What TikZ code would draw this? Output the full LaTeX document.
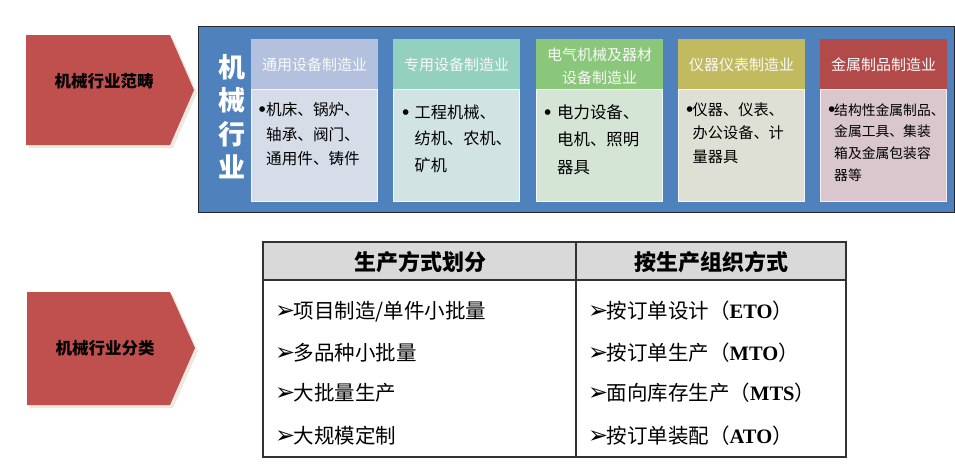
\documentclass[tikz,border=0pt]{standalone}
\usepackage{fontspec}
\setmainfont{Noto Sans CJK SC}
\newfontfamily\dvfont{DejaVu Sans}
\newfontfamily\lserif{Liberation Serif}
\definecolor{bannerred}{RGB}{192,80,77}
\definecolor{shade}{RGB}{236,233,222}
\definecolor{mainblue}{RGB}{79,129,189}
\definecolor{hA}{RGB}{180,193,222}\definecolor{bA}{RGB}{214,221,233}
\definecolor{hB}{RGB}{148,208,190}\definecolor{bB}{RGB}{210,227,228}
\definecolor{hC}{RGB}{139,199,122}\definecolor{bC}{RGB}{212,229,214}
\definecolor{hD}{RGB}{194,186,95}\definecolor{bD}{RGB}{223,224,213}
\definecolor{hE}{RGB}{178,74,73}\definecolor{bE}{RGB}{217,199,205}
\definecolor{headgray}{RGB}{217,217,217}
\definecolor{tline}{RGB}{50,50,50}
\newcommand{\arr}{\makebox[18.5pt][l]{\dvfont\fontsize{24}{24}\selectfont ➢}}
\newcommand{\lat}[1]{{\lserif\bfseries #1}}
\newcommand{\bul}{{\dvfont\bfseries\fontsize{16}{16}\selectfont •}}
\tikzset{
  x=1pt, y=-1pt,
  banner/.style={fill=bannerred},
  bannershadow/.style={fill=shade},
  bannertext/.style={font=\bfseries\fontsize{16.5}{18}\selectfont, text=black, inner sep=0},
  headtext/.style={font=\fontsize{15}{20}\selectfont, text=white!95!gray, align=center, inner sep=0},
  bodybox/.style={draw=white!70!#1, line width=1.2pt, fill=#1},
  bodytext/.style={anchor=base west, inner sep=0, text=black},
  dotnode/.style={anchor=base west, inner sep=0, text=black},
  tabhead/.style={font=\bfseries\fontsize{22}{24}\selectfont, inner sep=0},
  tabrow/.style={anchor=base west, inner sep=0, font=\fontsize{20.5}{22}\selectfont},
}
\begin{document}
\begin{tikzpicture}
\path[use as bounding box, fill=white] (0,0) rectangle (955,469);

% ---- top banner
\fill[bannershadow] (29,38) -- (173,38) -- (197,93) -- (173,148) -- (29,148) -- cycle;
\fill[banner] (26,35) -- (170,35) -- (194,90) -- (170,145) -- (26,145) -- cycle;
\node[bannertext] (ban1) at (104,81) {机械行业范畴};

% ---- bottom banner
\fill[bannershadow] (30,295) -- (173,295) -- (198,351) -- (173,408) -- (30,408) -- cycle;
\fill[banner] (27,292) -- (170,292) -- (195,348) -- (170,405) -- (27,405) -- cycle;
\node[bannertext] (ban2) at (105,348) {机械行业分类};

% ---- blue frame
\fill[shade] (200,28) rectangle (955,215);
\draw[fill=mainblue, draw=black!85, line width=1pt] (198,26) rectangle (954,212);
\node[anchor=base, inner sep=0, text=white, font=\bfseries\fontsize{27}{33.5}\selectfont] (vert) at (232,77)
  {\parbox[t]{30pt}{\centering 机\\械\\行\\业}};

% ---- five sub boxes
% box 1
\fill[hA] (251,39) rectangle (378,89);
\draw[bodybox=bA] (251.6,89.6) rectangle (377.4,201.4);
\node[headtext] (hA) at (314.5,64.5) {通用设备制造业};
\node[dotnode] (dA) at (257,115.5) {\bul};
\node[bodytext] (tA) at (266,115.5) {\parbox[t]{120pt}{\fontsize{15.6}{24.7}\selectfont 机床、锅炉、\\轴承、阀门、\\通用件、铸件}};

% box 2
\fill[hB] (393,39) rectangle (520,89);
\draw[bodybox=bB] (393.6,89.6) rectangle (519.4,201.4);
\node[headtext] (hB) at (456.5,64.5) {专用设备制造业};
\node[dotnode] (dB) at (400.5,118) {\bul};
\node[bodytext] (tB) at (414.5,118) {\parbox[t]{120pt}{\fontsize{16.2}{26.7}\selectfont 工程机械、\\纺机、农机、\\矿机}};

% box 3
\fill[hC] (536,39) rectangle (663,89);
\draw[bodybox=bC] (536.6,89.6) rectangle (662.4,201.4);
\node[headtext] (hC) at (599.5,66) {\parbox{125pt}{\centering\fontsize{15}{23}\selectfont 电气机械及器材\\设备制造业}};
\node[dotnode] (dC) at (542.5,118) {\bul};
\node[bodytext] (tC) at (557,118) {\parbox[t]{120pt}{\fontsize{16.4}{27.5}\selectfont 电力设备、\\电机、照明\\器具}};

% box 4
\fill[hD] (678,39) rectangle (805,89);
\draw[bodybox=bD] (678.6,89.6) rectangle (804.4,201.4);
\node[headtext] (hD) at (741.5,64.5) {仪器仪表制造业};
\node[dotnode] (dD) at (684.5,115.5) {\bul};
\node[bodytext] (tD) at (692.5,115.5) {\parbox[t]{120pt}{\fontsize{15.2}{23.3}\selectfont 仪器、仪表、\\办公设备、计\\量器具}};

% box 5
\fill[hE] (820,39) rectangle (947,89);
\draw[bodybox=bE] (820.6,89.6) rectangle (946.4,201.4);
\node[headtext] (hE) at (883.5,64.5) {金属制品制造业};
\node[dotnode] (dE) at (826.5,115) {\bul};
\node[bodytext] (tE) at (834,115) {\parbox[t]{120pt}{\fontsize{13.8}{21.7}\selectfont 结构性金属制品、\\金属工具、集装\\箱及金属包装容\\器等}};

% ---- table
\fill[headgray] (263,242) rectangle (846,280);
\draw[tline, line width=1.1pt] (263,242) rectangle (846,457);
\draw[tline, line width=1.1pt] (263,280) -- (846,280);
\draw[tline, line width=1.1pt] (576,242) -- (576,457);
\node[tabhead] (th1) at (420,262) {生产方式划分};
\node[tabhead] (th2) at (711,262) {按生产组织方式};

\node[tabrow] (l1) at (275,318) {\arr 项目制造/单件小批量};
\node[tabrow] (l2) at (275,360) {\arr 多品种小批量};
\node[tabrow] (l3) at (275,400) {\arr 大批量生产};
\node[tabrow] (l4) at (275,443) {\arr 大规模定制};

\node[tabrow] (r1) at (588,318) {\arr 按订单设计（\lat{ETO}）};
\node[tabrow] (r2) at (588,360) {\arr 按订单生产（\lat{MTO}）};
\node[tabrow] (r3) at (588,400) {\arr 面向库存生产（\lat{MTS}）};
\node[tabrow] (r4) at (588,443) {\arr 按订单装配（\lat{ATO}）};
\end{tikzpicture}
\end{document}
